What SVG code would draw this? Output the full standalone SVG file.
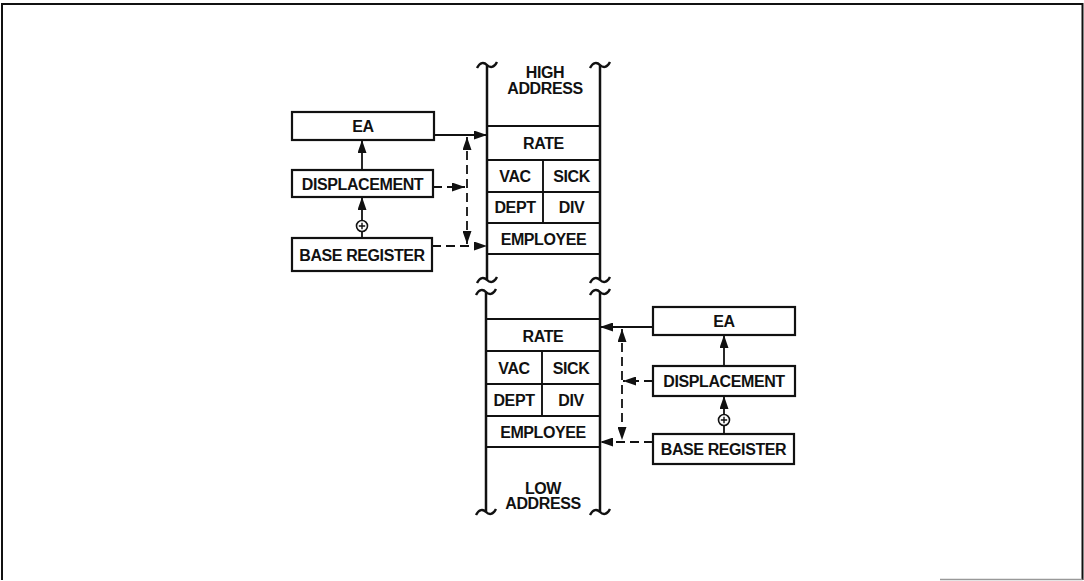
<svg xmlns="http://www.w3.org/2000/svg" xmlns:xlink="http://www.w3.org/1999/xlink" width="1084" height="581" viewBox="0 0 1084 581">
<style>
.box{fill:#fff;stroke:#111;stroke-width:2.2}
.col{fill:none;stroke:#111;stroke-width:2.5}
.row{fill:none;stroke:#111;stroke-width:1.9}
.t{font-family:"Liberation Sans",Arial,sans-serif;font-weight:bold;font-size:16px;letter-spacing:-0.4px;fill:#111;text-anchor:middle}
.ln{fill:none;stroke:#111;stroke-width:1.8}
.dash{fill:none;stroke:#111;stroke-width:1.8;stroke-dasharray:9 5}
.tl{fill:none;stroke:#111;stroke-width:2.4}
</style>
<defs>
<marker id="ah" viewBox="0 0 13 9" refX="13" refY="4.5" markerWidth="13" markerHeight="9" markerUnits="userSpaceOnUse" orient="auto-start-reverse">
<path d="M0,0 L13,4.5 L0,9 Z" fill="#111"/>
</marker>
<path id="tilde" class="tl" d="M-10,3 C-7,-3 -3,-3 0,0 C3,3 7,3 10,-3"/>
</defs>
<rect width="1084" height="581" fill="#fff"/>
<g id="frame">
<path d="M2,580 L2,4 L1082.5,4 L1082.5,580" fill="none" stroke="#111" stroke-width="2"/>
<path d="M940,579.5 L1082.5,579.5" stroke="#999" stroke-width="1.5"/>
</g>
<g id="upper-memory">
<line class="col" x1="487" y1="65" x2="487" y2="280"/>
<line class="col" x1="600" y1="65" x2="600" y2="280"/>
<use href="#tilde" x="487" y="65"/>
<use href="#tilde" x="600" y="65"/>
<use href="#tilde" x="487" y="280"/>
<use href="#tilde" x="600" y="280"/>
<line class="row" x1="487" y1="126" x2="600" y2="126"/>
<line class="row" x1="487" y1="160" x2="600" y2="160"/>
<line class="row" x1="487" y1="192" x2="600" y2="192"/>
<line class="row" x1="487" y1="223" x2="600" y2="223"/>
<line class="row" x1="487" y1="254" x2="600" y2="254"/>
<line class="row" x1="543" y1="160" x2="543" y2="223"/>
<text class="t" x="545" y="78">HIGH</text>
<text class="t" x="545" y="93.5">ADDRESS</text>
<text class="t" x="543.5" y="149">RATE</text>
<text class="t" x="515" y="182">VAC</text>
<text class="t" x="571.5" y="182">SICK</text>
<text class="t" x="515" y="213">DEPT</text>
<text class="t" x="571.5" y="213">DIV</text>
<text class="t" x="543.5" y="244.5">EMPLOYEE</text>
</g>
<g id="lower-memory">
<line class="col" x1="486" y1="292" x2="486" y2="512"/>
<line class="col" x1="600" y1="292" x2="600" y2="512"/>
<use href="#tilde" x="486" y="292"/>
<use href="#tilde" x="600" y="292"/>
<use href="#tilde" x="486" y="512"/>
<use href="#tilde" x="600" y="512"/>
<line class="row" x1="486" y1="319" x2="600" y2="319"/>
<line class="row" x1="486" y1="351" x2="600" y2="351"/>
<line class="row" x1="486" y1="384" x2="600" y2="384"/>
<line class="row" x1="486" y1="416" x2="600" y2="416"/>
<line class="row" x1="486" y1="447" x2="600" y2="447"/>
<line class="row" x1="542" y1="351" x2="542" y2="416"/>
<text class="t" x="543" y="341.5">RATE</text>
<text class="t" x="514" y="374">VAC</text>
<text class="t" x="571" y="374">SICK</text>
<text class="t" x="514" y="406">DEPT</text>
<text class="t" x="571" y="406">DIV</text>
<text class="t" x="543" y="437.5">EMPLOYEE</text>
<text class="t" x="543" y="494">LOW</text>
<text class="t" x="543" y="509">ADDRESS</text>
</g>
<g id="ea-left">
<rect class="box" x="292" y="112" width="142" height="28"/>
<text class="t" x="363" y="132">EA</text>
</g>
<g id="disp-left">
<rect class="box" x="292" y="170" width="141" height="27"/>
<text class="t" x="362.5" y="189.5">DISPLACEMENT</text>
</g>
<g id="base-left">
<rect class="box" x="292" y="238" width="140" height="33"/>
<text class="t" x="362" y="260.5">BASE REGISTER</text>
</g>
<g id="ea-right">
<rect class="box" x="653" y="307" width="142" height="28"/>
<text class="t" x="724" y="327">EA</text>
</g>
<g id="disp-right">
<rect class="box" x="653" y="366" width="142" height="30"/>
<text class="t" x="724" y="387">DISPLACEMENT</text>
</g>
<g id="base-right">
<rect class="box" x="653" y="434" width="141" height="30"/>
<text class="t" x="723.5" y="455">BASE REGISTER</text>
</g>
<g id="connectors">
<line class="ln" x1="434" y1="135" x2="487" y2="135" marker-end="url(#ah)"/>
<line class="dash" x1="467" y1="137" x2="467" y2="244" marker-start="url(#ah)" marker-end="url(#ah)"/>
<line class="dash" x1="433" y1="187" x2="465" y2="187" marker-end="url(#ah)"/>
<line class="dash" x1="432" y1="246" x2="487" y2="246" marker-end="url(#ah)"/>
<line class="ln" x1="362" y1="170" x2="362" y2="140" marker-end="url(#ah)"/>
<line class="ln" x1="362" y1="238" x2="362" y2="197" marker-end="url(#ah)"/>
<circle cx="362" cy="226" r="5.5" fill="#fff" stroke="#111" stroke-width="1.6"/>
<path d="M358.8,226 H365.2 M362,222.8 V229.2" stroke="#111" stroke-width="1.4"/>
<line class="ln" x1="653" y1="327" x2="600" y2="327" marker-end="url(#ah)"/>
<line class="dash" x1="622" y1="329" x2="622" y2="440" marker-start="url(#ah)" marker-end="url(#ah)"/>
<line class="dash" x1="653" y1="381" x2="623" y2="381" marker-end="url(#ah)"/>
<line class="dash" x1="653" y1="442" x2="600" y2="442" marker-end="url(#ah)"/>
<line class="ln" x1="724" y1="366" x2="724" y2="335" marker-end="url(#ah)"/>
<line class="ln" x1="724" y1="434" x2="724" y2="396" marker-end="url(#ah)"/>
<circle cx="724" cy="420" r="5.5" fill="#fff" stroke="#111" stroke-width="1.6"/>
<path d="M720.8,420 H727.2 M724,416.8 V423.2" stroke="#111" stroke-width="1.4"/>
</g>
</svg>
